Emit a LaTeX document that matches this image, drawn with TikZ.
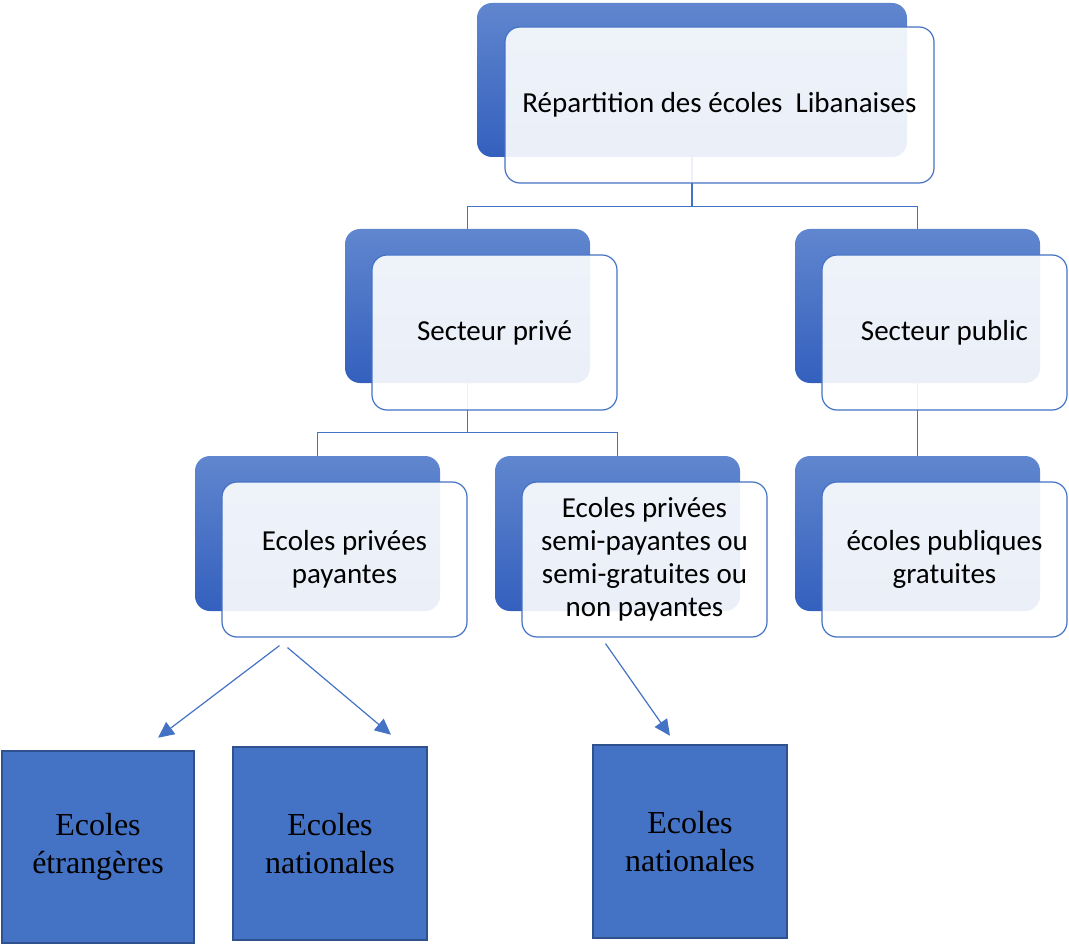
\documentclass[tikz,border=0pt]{standalone}
\usepackage{fontspec}
\setmainfont{Carlito}
\newfontfamily\tnr{Liberation Serif}
\usetikzlibrary{arrows.meta,calc}
\definecolor{accent}{RGB}{68,114,196}
\definecolor{accentdark}{RGB}{47,82,143}
\definecolor{gradtop}{RGB}{96,134,206}
\definecolor{gradbot}{RGB}{52,96,190}
\tikzset{
  back/.style={rectangle, rounded corners=15pt, top color=gradtop, bottom color=gradbot, draw=none, inner sep=0pt},
  front/.style={rectangle, rounded corners=15pt, draw=accent, line width=1.2pt, fill=white, fill opacity=0.9, text opacity=1, inner sep=0pt, align=center, font=\fontsize{29}{33}\selectfont},
  leaf/.style={rectangle, draw=accentdark, line width=2.5pt, fill=accent, inner sep=0pt, align=center, font=\tnr\fontsize{32}{38}\selectfont},
  tree/.style={draw=accent, line width=1.2pt},
  arr/.style={draw=accent, line width=1.2pt, -{Triangle[length=16pt,width=15pt]}}
}
\begin{document}
\begin{tikzpicture}[x=1pt,y=-1pt]
\useasboundingbox (0,0) rectangle (1069,944);
% back boxes
\node[back, minimum width=430pt, minimum height=154pt] (b0) at (692,80) {};
\node[back, minimum width=245pt, minimum height=154pt] (b1) at (467.5,306) {};
\node[back, minimum width=245pt, minimum height=154pt] (b2) at (917.5,306) {};
\node[back, minimum width=245pt, minimum height=155pt] (b3) at (317.5,533.5) {};
\node[back, minimum width=245pt, minimum height=155pt] (b4) at (617.5,533.5) {};
\node[back, minimum width=245pt, minimum height=155pt] (b5) at (917.5,533.5) {};
% tree connectors
\draw[tree] (b0.south) -- ++(0,49) -| (b1.north);
\draw[tree] (b0.south) -- ++(0,49) -| (b2.north);
\draw[tree] (b1.south) -- ++(0,49) -| (b3.north);
\draw[tree] (b1.south) -- ++(0,49) -| (b4.north);
\draw[tree] (b2.south) -- (b5.north);
% front boxes
\node[front, minimum width=429pt, minimum height=156pt] (f0) at (719.5,105) {Répartition des écoles~ Libanaises};
\node[front, minimum width=245pt, minimum height=155pt] (f1) at (494.5,332.5) {Secteur privé};
\node[front, minimum width=245pt, minimum height=155pt] (f2) at (944.5,332.5) {Secteur public};
\node[front, minimum width=245pt, minimum height=155pt] (f3) at (344.5,559.5) {Ecoles privées\\payantes};
\node[front, minimum width=245pt, minimum height=155pt] (f4) at (644.5,559.5) {Ecoles privées\\semi-payantes ou\\semi-gratuites ou\\non payantes};
\node[front, minimum width=245pt, minimum height=155pt] (f5) at (944.5,559.5) {écoles publiques\\gratuites};
% leaves
\node[leaf, minimum width=192pt, minimum height=192pt] (l1) at (98,847) {Ecoles\\étrangères};
\node[leaf, minimum width=194pt, minimum height=193pt] (l2) at (330,843.5) {Ecoles\\nationales};
\node[leaf, minimum width=194pt, minimum height=193pt] (l3) at (690,841.5) {Ecoles\\nationales};
% arrows
\coordinate (s1) at ($(f3.south)+(-65,8)$);
\coordinate (s2) at ($(f3.south)+(-57,10)$);
\coordinate (s3) at ($(f4.south)+(-39,6)$);
\coordinate (e1) at ($(l1.north)+(60,-12)$);
\coordinate (e2) at ($(l2.north)+(61,-11)$);
\coordinate (e3) at ($(l3.north)+(-20,-8)$);
\draw[arr] (s1) -- (e1);
\draw[arr] (s2) -- (e2);
\draw[arr] (s3) -- (e3);
\end{tikzpicture}
\end{document}
